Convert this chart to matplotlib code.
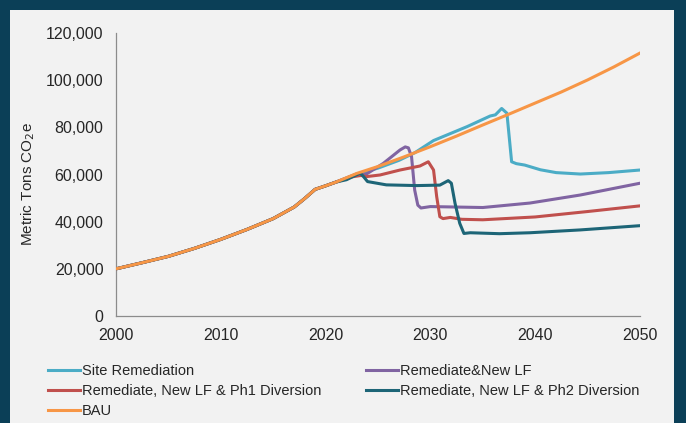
import matplotlib.pyplot as plt
from matplotlib.patches import Rectangle
from matplotlib.ticker import FuncFormatter

plt.rcParams['font.family'] = ['Liberation Sans', 'DejaVu Sans']

# historical emissions shared by every scenario
hist_years = [2000, 2002.5, 2005, 2007.5, 2010, 2012.5, 2015, 2017, 2018, 2019, 2020, 2021]
hist_vals = [20000, 22600, 25300, 28700, 32500, 36700, 41300, 46200, 49800, 53700, 55200, 56800]

# business as usual
bau_years = [2023, 2025, 2027.5, 2030, 2032.5, 2035, 2037.5, 2040, 2042.5, 2045, 2047.5, 2050]
bau_vals = [60500, 63400, 67500, 71800, 76300, 81000, 85600, 90300, 95000, 100100, 105600, 111500]

# site remediation
site_years = [2023, 2025, 2027, 2028.5, 2030.3, 2033.5, 2035.7, 2036.2, 2036.8, 2037.3,
              2037.75, 2038.2, 2039, 2040.5, 2042, 2044.3, 2047, 2050]
site_vals = [60200, 62700, 66000, 69200, 74400, 80300, 84800, 85300, 88000, 86000,
             65400, 64600, 64000, 62000, 60800, 60200, 60800, 61900]

# remediate & new landfill
newlf_years = [2023, 2023.9, 2025.5, 2027.1, 2027.6, 2027.9, 2028.2, 2028.5, 2028.8, 2029.1,
               2030, 2035, 2039.5, 2044.3, 2050]
newlf_vals = [60300, 60200, 64700, 70400, 71700, 71300, 67600, 53400, 47000, 45800,
              46400, 46000, 47900, 51300, 56300]

# remediate, new landfill & phase 1 diversion
ph1_years = [2022.5, 2023.4, 2023.9, 2025.2, 2027.1, 2029, 2029.8, 2030.3, 2030.6, 2030.9,
             2031.2, 2031.9, 2033, 2035, 2040, 2045, 2050]
ph1_vals = [59000, 59600, 59100, 59800, 61900, 63600, 65400, 61900, 50600, 42100,
            41300, 41800, 41000, 40800, 42000, 44300, 46700]

# remediate, new landfill & phase 2 diversion
ph2_years = [2022, 2023.3, 2023.6, 2024, 2025.8, 2028.7, 2030.9, 2031.7, 2032, 2032.35,
             2032.8, 2033.2, 2033.8, 2036.6, 2039.5, 2044.3, 2050]
ph2_vals = [57800, 60600, 59200, 57000, 55600, 55300, 55500, 57400, 56300, 47800,
            39300, 35000, 35300, 34900, 35300, 36500, 38300]

series = [
    ("Site Remediation", site_years, site_vals, "#4bacc6"),
    ("Remediate&New LF", newlf_years, newlf_vals, "#8064a2"),
    ("Remediate, New LF & Ph1 Diversion", ph1_years, ph1_vals, "#c0504d"),
    ("Remediate, New LF & Ph2 Diversion", ph2_years, ph2_vals, "#1d6577"),
    ("BAU", bau_years, bau_vals, "#f79646"),
]

fig = plt.figure(figsize=(6.86, 4.23), dpi=100, facecolor="#0b3f57")
# light inner panel inside the dark frame
fig.patches.append(Rectangle((10 / 686, 0), 664 / 686, 1 - 10 / 423,
                             transform=fig.transFigure, facecolor="#f2f2f2",
                             edgecolor="none", zorder=-10))

ax = fig.add_axes([116 / 686, 1 - 316 / 423, 524 / 686, 283 / 423])
ax.set_facecolor("#f2f2f2")

lines = {}
for i, (name, yrs, vals, col) in enumerate(series):
    x = hist_years + yrs
    y = hist_vals + vals
    lines[name], = ax.plot(x, y, color=col, lw=2.2, label=name,
                           solid_joinstyle="round", zorder=3 + i)

ax.set_xlim(2000, 2050)
ax.set_ylim(0, 120000)
ax.set_xticks(range(2000, 2051, 10))
ax.set_yticks(range(0, 120001, 20000))
ax.yaxis.set_major_formatter(FuncFormatter(lambda v, p: f"{int(v):,}"))
ax.tick_params(length=0, labelsize=11.5, colors="#262626")
ax.tick_params(axis="y", pad=9)
ax.tick_params(axis="x", pad=9)
for side in ["top", "right"]:
    ax.spines[side].set_visible(False)
for side in ["left", "bottom"]:
    ax.spines[side].set_color("#8c8c8c")
    ax.spines[side].set_linewidth(0.9)

fig.text(28 / 686, 1 - 184 / 423, "Metric Tons CO$_2$e", rotation=90,
         ha="center", va="center", fontsize=11, color="#262626")

# legend: two columns, filled column by column
order = ["Site Remediation", "Remediate, New LF & Ph1 Diversion", "BAU",
         "Remediate&New LF", "Remediate, New LF & Ph2 Diversion"]
fig.legend([lines[n] for n in order], order, ncol=2, loc="upper left",
           bbox_to_anchor=(48 / 686, 1 - 364 / 423), frameon=False,
           fontsize=10.5, handlelength=2.2, handletextpad=0.1,
           columnspacing=3.1, labelspacing=0.4, borderpad=0, borderaxespad=0,
           labelcolor="#262626")

fig.savefig("out.png", dpi=100, facecolor=fig.get_facecolor())
